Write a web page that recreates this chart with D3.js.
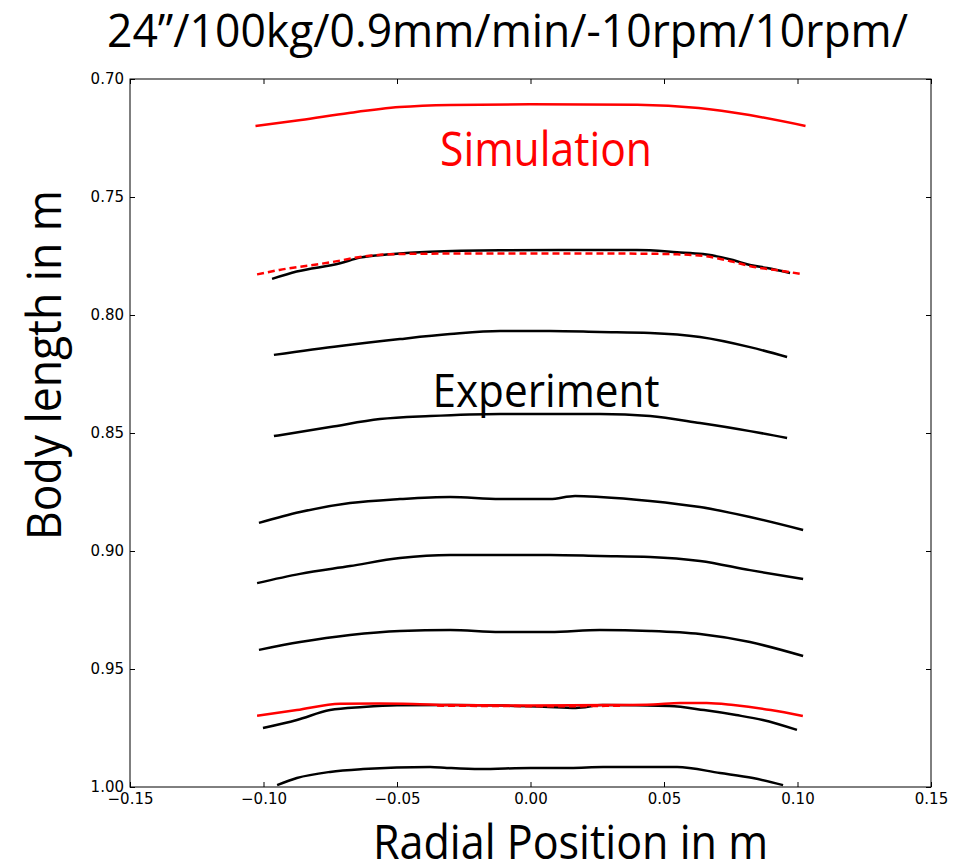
<!DOCTYPE html>
<html lang="en">
<head>
<meta charset="utf-8">
<title>Body length profiles</title>
<script src="https://d3js.org/d3.v7.min.js"></script>
<style>
  body { margin: 0; background: #fff; }
  .tick text { font-family: "DejaVu Sans", sans-serif; font-size: 15px; fill: #000; }
  .big { font-family: "Open Sans", sans-serif; }
</style>
</head>
<body>
<div id="chart"></div>
<script>
// radial position (m), body length (m)
var simTop = [[-0.103,0.7199],[-0.086,0.7174],[-0.068,0.7144],[-0.049,0.7119],[-0.030,0.7110],[0,0.7107],[0.040,0.7109],[0.063,0.7123],[0.082,0.7153],[0.103,0.7199]]
var simMid = [[-0.1024,0.7828],[-0.094,0.7809],[-0.075,0.7777],[-0.063,0.7753],[-0.053,0.7743],[-0.038,0.7740],[0,0.7739],[0.040,0.7740],[0.055,0.7743],[0.065,0.7750],[0.076,0.7775],[0.082,0.7792],[0.097,0.7818],[0.1021,0.7828]]
var simBottom = [[-0.1024,0.9698],[-0.0875,0.9674],[-0.0713,0.9647],[-0.0564,0.9646],[-0.044,0.9648],[-0.030,0.9653],[0,0.9655],[0.030,0.9653],[0.046,0.9650],[0.056,0.9644],[0.066,0.9644],[0.076,0.9653],[0.090,0.9674],[0.102,0.9699]]
var simBottomDash = [[-0.035,0.9655],[-0.010,0.9657],[0.010,0.9658],[0.035,0.9655]]

var exp1 = [[-0.0968,0.7847],[-0.0876,0.7816],[-0.0713,0.7781],[-0.0639,0.7757],[-0.0526,0.7743],[-0.0376,0.7732],[-0.0114,0.7726],[0.011,0.7725],[0.0399,0.7725],[0.0549,0.7734],[0.0646,0.7742],[0.0758,0.7767],[0.0822,0.7788],[0.0886,0.7801],[0.0972,0.7822]]
var exp2 = [[-0.0961,0.8169],[-0.0713,0.8131],[-0.0489,0.8102],[-0.0301,0.8081],[-0.0114,0.8068],[0.0073,0.8068],[0.026,0.8072],[0.0448,0.8076],[0.0635,0.8093],[0.0822,0.8136],[0.0961,0.8178]]
var exp3 = [[-0.0961,0.8513],[-0.0751,0.8475],[-0.0564,0.8441],[-0.0376,0.8428],[-0.0114,0.8419],[0.0073,0.8419],[0.026,0.8419],[0.0448,0.8428],[0.0635,0.8458],[0.0822,0.8492],[0.0961,0.8521]]
var exp4 = [[-0.1017,0.8881],[-0.0863,0.8835],[-0.0676,0.8797],[-0.0489,0.8780],[-0.0301,0.8771],[-0.0114,0.8780],[0.0073,0.8780],[0.0167,0.8767],[0.026,0.8771],[0.0448,0.8788],[0.0635,0.8814],[0.0822,0.8856],[0.1021,0.8911]]
var exp5 = [[-0.1024,0.9136],[-0.0863,0.9097],[-0.0676,0.9064],[-0.0489,0.9030],[-0.0301,0.9017],[-0.0114,0.9017],[0.0073,0.9017],[0.026,0.9021],[0.0448,0.9025],[0.0635,0.9042],[0.0822,0.9081],[0.1021,0.9119]]
var exp6 = [[-0.1017,0.9419],[-0.0863,0.9386],[-0.0676,0.9356],[-0.0489,0.9339],[-0.0301,0.9335],[-0.0114,0.9343],[0.0073,0.9343],[0.026,0.9335],[0.0448,0.9339],[0.0635,0.9352],[0.0822,0.9386],[0.1021,0.9445]]
var exp7 = [[-0.1002,0.9750],[-0.0875,0.9716],[-0.0751,0.9674],[-0.0627,0.9661],[-0.050,0.9654],[-0.030,0.9653],[-0.010,0.9655],[0.005,0.9660],[0.017,0.9665],[0.027,0.9653],[0.052,0.9657],[0.065,0.9674],[0.077,0.9695],[0.087,0.9716],[0.0998,0.9758]]
var exp8 = [[-0.0949,0.9992],[-0.0875,0.9962],[-0.0751,0.9936],[-0.0627,0.9924],[-0.0376,0.9915],[-0.0313,0.9919],[-0.0189,0.9924],[0,0.9919],[0.0148,0.9919],[0.0272,0.9915],[0.0549,0.9915],[0.071,0.9941],[0.0833,0.9962],[0.0946,0.9992]]

var xTicks = [-0.15,-0.10,-0.05,0.00,0.05,0.10,0.15]
var yTicks = [0.70,0.75,0.80,0.85,0.90,0.95,1.00]

var w = 974, h = 865
var m = {left:130, top:79, right:43, bottom:78}
var pw = w - m.left - m.right, ph = h - m.top - m.bottom

var svg = d3.select("#chart").append("svg").attr("width", w).attr("height", h)

var x = d3.scaleLinear().domain([-0.15,0.15]).range([0,pw])
var y = d3.scaleLinear().domain([0.70,1.00]).range([0,ph])

var g = svg.append("g").attr("transform","translate("+m.left+","+m.top+")")

var fmt = function(d){ return d3.format(".2f")(d).replace("-","\u2212") }

// axes, matplotlib classic style: ticks pointing inward on all sides
g.append("g").attr("transform","translate(0,"+ph+")")
  .call(d3.axisBottom(x).tickValues(xTicks).tickFormat(fmt).tickSizeInner(-5).tickSizeOuter(0).tickPadding(6))
g.append("g")
  .call(d3.axisLeft(y).tickValues(yTicks).tickFormat(fmt).tickSizeInner(-5).tickSizeOuter(0).tickPadding(6))
g.append("g")
  .call(d3.axisTop(x).tickValues(xTicks).tickFormat("").tickSizeInner(-5).tickSizeOuter(0))
g.append("g").attr("transform","translate("+pw+",0)")
  .call(d3.axisRight(y).tickValues(yTicks).tickFormat("").tickSizeInner(-5).tickSizeOuter(0))
g.selectAll(".domain").remove()
g.selectAll(".tick line").attr("stroke","#000").attr("stroke-width",1)

g.append("rect").attr("width",pw).attr("height",ph)
  .attr("fill","none").attr("stroke","#000").attr("stroke-width",1)

var line = d3.line().x(function(d){ return x(d[0]) }).y(function(d){ return y(d[1]) })
  .curve(d3.curveMonotoneX)

var expCurves = [exp1,exp2,exp3,exp4,exp5,exp6,exp7,exp8]
g.selectAll(".exp").data(expCurves).enter().append("path")
  .attr("class","exp").attr("d",line)
  .attr("fill","none").attr("stroke","#000").attr("stroke-width",2.5)

g.selectAll(".sim").data([simTop,simBottom]).enter().append("path")
  .attr("class","sim").attr("d",line)
  .attr("fill","none").attr("stroke","#ff0000").attr("stroke-width",2.5)

g.selectAll(".simdash").data([simMid,simBottomDash]).enter().append("path")
  .attr("class","simdash").attr("d",line)
  .attr("fill","none").attr("stroke","#ff0000").attr("stroke-width",2.5)
  .attr("stroke-dasharray","7,4")

// labels
function label(txt, px, py, size, len, color){
  return svg.append("text").attr("class","big")
    .attr("x",px).attr("y",py).attr("text-anchor","middle")
    .attr("font-size",size).attr("fill",color||"#000")
    .attr("textLength",len).attr("lengthAdjust","spacingAndGlyphs")
    .text(txt)
}
label("24\u201d/100kg/0.9mm/min/-10rpm/10rpm/", 507.5, 47, 45, 801)
label("Simulation", 546, 166, 48, 212, "#ff0000")
label("Experiment", 546, 407, 46, 227)
label("Radial Position in m", 570.5, 859, 48, 395)
label("Body length in m", 0, 0, 48, 350)
  .attr("transform","translate(61,365) rotate(-90)")
</script>
</body>
</html>
